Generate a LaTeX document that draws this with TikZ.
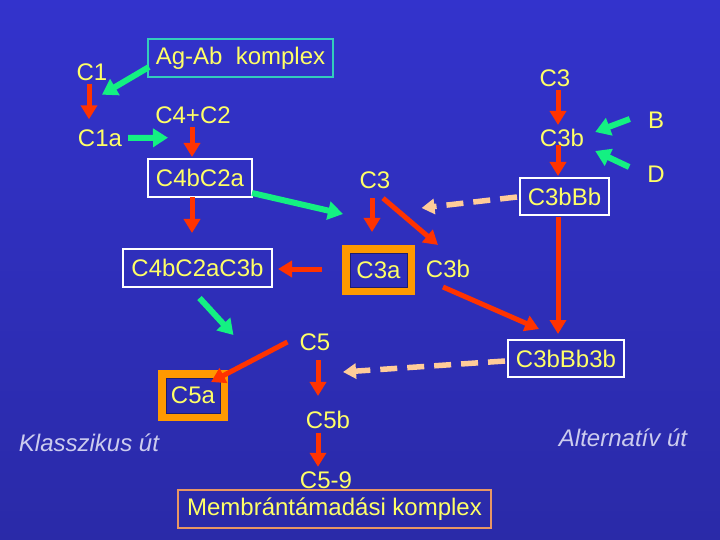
\documentclass[tikz,border=0pt]{standalone}
\usepackage{fontspec}
\setmainfont{Liberation Sans}
\usetikzlibrary{arrows.meta,calc}
\definecolor{bgtop}{RGB}{51,51,204}
\definecolor{bgbot}{RGB}{42,42,168}
\definecolor{txtyel}{RGB}{255,255,102}
\definecolor{redarr}{RGB}{255,51,0}
\definecolor{grnarr}{RGB}{20,240,130}
\definecolor{peach}{RGB}{255,204,153}
\definecolor{tealbox}{RGB}{51,204,187}
\definecolor{orgbox}{RGB}{255,153,0}
\definecolor{tanbox}{RGB}{232,150,100}
\definecolor{darkline}{RGB}{30,30,110}
\definecolor{lavtxt}{RGB}{204,204,238}
\tikzset{
  lbl/.style={text=txtyel,inner sep=0pt,font=\fontsize{24}{28}\selectfont},
  wbox/.style={lbl,draw=white,line width=2pt,minimum height=38pt},
  obox/.style={lbl,draw=orgbox,line width=8pt},
  ital/.style={text=lavtxt,inner sep=0pt,font=\fontsize{24}{28}\selectfont\itshape},
  redline/.style={draw=redarr,line width=5pt,-{Triangle[length=14pt,width=16pt]}},
  grnline/.style={draw=grnarr,line width=6pt,-{Triangle[length=15pt,width=18pt]}},
  dashline/.style={draw=peach,line width=5.5pt,dash pattern=on 17pt off 10pt,-{Triangle[length=13pt,width=15pt]}}
}
\begin{document}
\begin{tikzpicture}[x=1pt,y=-1pt]
\shade[top color=bgtop,bottom color=bgbot] (0,0) rectangle (720,540);
\useasboundingbox (0,0) rectangle (720,540);
% left column
\node[lbl] (C1) at (92,72) {C1};
\node[lbl,draw=tealbox,line width=2pt,minimum width=185pt,minimum height=38pt] (AgAb) at (240.5,58) {Ag-Ab\ \ komplex};
\node[lbl] (C1a) at (100,138) {C1a};
\node[lbl] (C42) at (193,115) {C4+C2};
\node[wbox,minimum width=104pt] (C4bC2a) at (200,178) {C4bC2a};
\node[wbox,minimum width=149pt] (C4bC2aC3b) at (197.5,268) {C4bC2aC3b};
\node[lbl] (C3m) at (375,180) {C3};
\node[obox,minimum width=65pt,minimum height=42pt] (C3a) at (378.5,270) {C3a};
\draw[darkline,line width=1pt] ($(C3a.north west)+(8,8)$) rectangle ($(C3a.south east)+(-8,-8)$);
\node[lbl] (C3bm) at (448,269) {C3b};
\node[lbl] (C5) at (315,342) {C5};
\node[obox,minimum width=62pt,minimum height=43pt] (C5a) at (193,395.5) {C5a};
\draw[darkline,line width=1pt] ($(C5a.north west)+(8,8)$) rectangle ($(C5a.south east)+(-8,-8)$);
\node[lbl] (C5b) at (328,420) {C5b};
\node[lbl] (C59) at (326,480) {C5-9};
\node[lbl,draw=tanbox,line width=2pt,minimum width=313pt,minimum height=38pt] (MAC) at (334.5,509) {Membrántámadási komplex};
\node[ital] (klassz) at (89,443) {Klasszikus út};
% right column
\node[lbl] (C3t) at (555,78) {C3};
\node[lbl] (C3br) at (562,138) {C3b};
\node[lbl] (B) at (656,120) {B};
\node[lbl] (D) at (656,174) {D};
\node[wbox,minimum width=89pt,minimum height=37pt] (C3bBb) at (564.5,196.5) {C3bBb};
\node[wbox,minimum width=116pt,minimum height=37pt] (C3bBb3b) at (566,358.5) {C3bBb3b};
\node[ital] (altern) at (623,438) {Alternatív út};
% connectors
\draw[grnline] ($(AgAb.west)+(2,9)$) -- ($(C1.south)+(10,14)$);
\draw[redline] ($(C1.south)+(-3,3)$) -- ($(C1a.north)+(-11,-10)$);
\draw[grnline] ($(C1a.east)+(6,0)$) -- ($(C42.south)+(-25,14)$);
\draw[redline] ($(C42.south)+(-1,3)$) -- ($(C4bC2a.north)+(-8,-1)$);
\draw[redline] ($(C4bC2a.south)+(-8,-1)$) -- ($(C4bC2aC3b.north)+(-5.5,-15)$);
\draw[grnline] ($(C4bC2a.south east)+(-1,-5)$) -- ($(C3a.north west)+(1,-31)$);
\draw[redline] ($(C3m.south)+(-3,9.5)$) -- ($(C3a.north)+(-6.5,-13)$);
\draw[redline] ($(C3m.south)+(8,9.5)$) -- ($(C3bm.north)+(-10,-15)$);
\draw[redline] ($(C3a.west)+(-20,-1)$) -- ($(C4bC2aC3b.east)+(5,1)$);
\draw[grnline] ($(C4bC2aC3b.south)+(2,10)$) -- ($(C5.west)+(-66,-7)$);
\draw[redline] ($(C5.west)+(-12,0)$) -- ($(C5a.north east)+(-17,12)$);
\draw[redline] ($(C5.south)+(3,9.5)$) -- ($(C5b.north)+(-10,-15)$);
\draw[redline] ($(C5b.south)+(-10,3.5)$) -- ($(C59.north)+(-8,-4.5)$);
\draw[redline] ($(C3t.south)+(3,3.5)$) -- ($(C3br.north)+(-4,-4)$);
\draw[grnline] ($(B.west)+(-18,-1)$) -- ($(C3br.east)+(11,-6)$);
\draw[grnline] ($(D.west)+(-18,-7)$) -- ($(C3br.east)+(11,13)$);
\draw[redline] ($(C3br.south)+(-4,-2)$) -- ($(C3bBb.north)+(-6.5,-1)$);
\draw[dashline] ($(C3bBb.west)+(-2,0.5)$) -- ($(C3m.east)+(31,28)$);
\draw[redline] ($(C3bBb.south)+(-6.5,1)$) -- ($(C3bBb3b.north)+(-8,-5)$);
\draw[redline] ($(C3bm.south)+(-5,9)$) -- ($(C3bBb3b.north west)+(32,-10)$);
\draw[dashline] ($(C3bBb3b.west)+(-2,2.5)$) -- ($(C5.east)+(12.5,30)$);
\end{tikzpicture}
\end{document}
